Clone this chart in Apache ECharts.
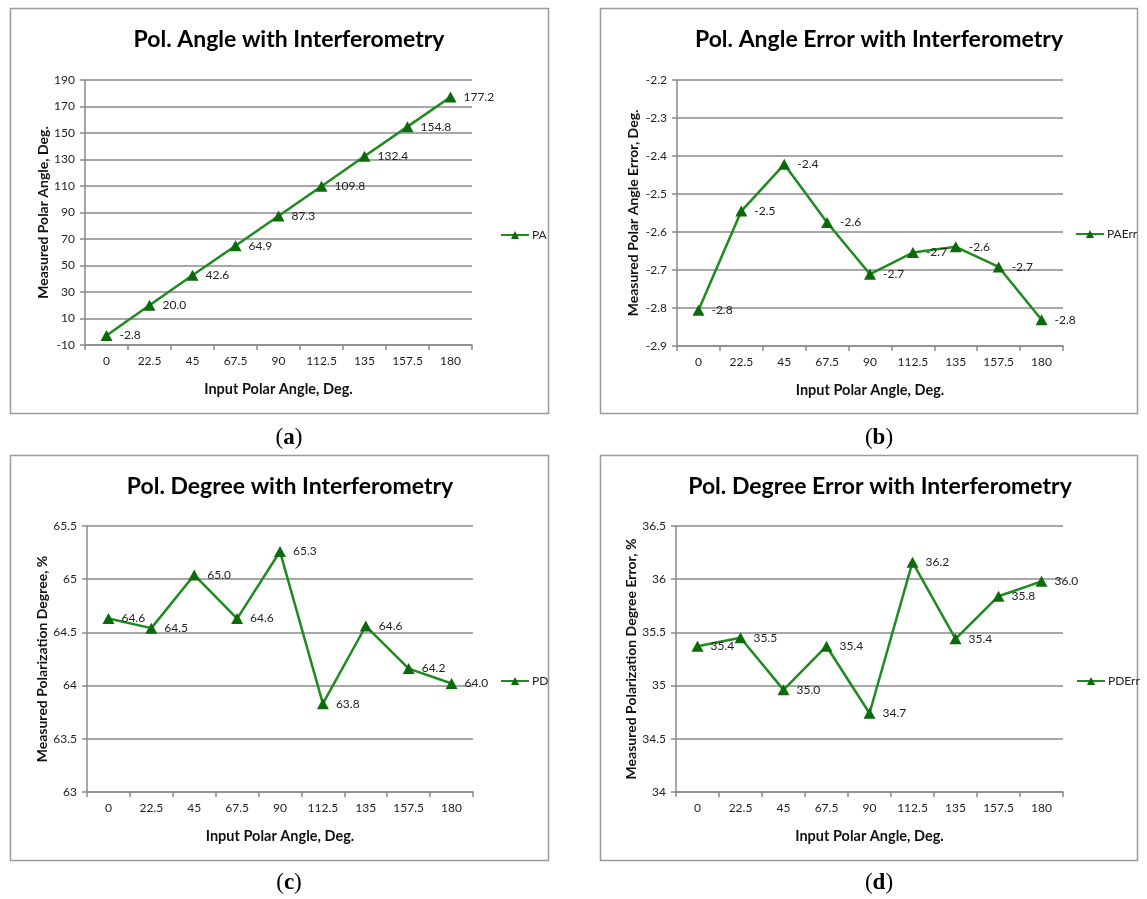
<!DOCTYPE html>
<html>
<head>
<meta charset="utf-8">
<script src="https://cdn.jsdelivr.net/npm/echarts@6/dist/echarts.min.js"></script>
<style>
html,body{margin:0;padding:0;background:#fff;}
#main{width:1147px;height:899px;}
</style>
</head>
<body>
<div id="main"></div>
<script>
// input polar angle categories (shared by all 4 panels)
var xCats = ['0','22.5','45','67.5','90','112.5','135','157.5','180'];
// (a) measured polar angle
var paValues = [-2.8, 20.0, 42.6, 64.9, 87.3, 109.8, 132.4, 154.8, 177.2];
// (b) polar angle error
var paErrValues = [-2.806, -2.545, -2.422, -2.575, -2.711, -2.654, -2.639, -2.692, -2.831];
// (c) polarization degree
var pdValues = [64.63, 64.54, 65.04, 64.63, 65.26, 63.83, 64.56, 64.16, 64.02];
// (d) polarization degree error
var pdErrValues = [35.37, 35.45, 34.96, 35.37, 34.74, 36.16, 35.44, 35.84, 35.98];

// y tick values of each panel
var paTicks = [-10, 10, 30, 50, 70, 90, 110, 130, 150, 170, 190];
var paErrTicks = [-2.9, -2.8, -2.7, -2.6, -2.5, -2.4, -2.3, -2.2];
var pdTicks = [63, 63.5, 64, 64.5, 65, 65.5];
var pdErrTicks = [34, 34.5, 35, 35.5, 36, 36.5];

var titles = ['Pol. Angle with Interferometry','Pol. Angle Error with Interferometry',
              'Pol. Degree with Interferometry','Pol. Degree Error with Interferometry'];
var yNames = ['Measured Polar Angle, Deg.','Measured Polar Angle Error, Deg.',
              'Measured Polarization Degree, %','Measured Polarization Degree Error, %'];
var seriesNames = ['PA','PAErr','PD','PDErr'];
var captions = ['a','b','c','d'];

var seriesData = [paValues, paErrValues, pdValues, pdErrValues];
var yTicks = [paTicks, paErrTicks, pdTicks, pdErrTicks];

// layout of each panel
var panels = [
	{box:[10,8,538,405], grid:[85,80,387,265], titleX:289, titleY:40, legend:[495,224], cap:[289,438], yGap:34},
	{box:[600,8,537,405], grid:[677,80,386,266], titleX:879, titleY:40, legend:[1070,223], cap:[879,438], yGap:37},
	{box:[10,455,538,405], grid:[87,526,386,266], titleX:290, titleY:487, legend:[495,670], cap:[289,883], yGap:38},
	{box:[600,455,537,405], grid:[676,526,387,266], titleX:880, titleY:487, legend:[1071,670], cap:[879,883], yGap:37}
];

var FONT = 'Lato, "Open Sans", sans-serif';
var lineColor = '#1f8a1f';
var markColor = '#0b6b0b';
var gridColor = '#8a8a8a';

var grids = [], xAxes = [], yAxes = [], series = [], legends = [], graphics = [];

for(var i=0;i<4;i++){
	var p = panels[i];
	var ticks = yTicks[i];
	graphics.push({
		type:'rect',
		shape:{x:p.box[0]+0.5, y:p.box[1]+0.5, width:p.box[2], height:p.box[3]},
		style:{fill:'none', stroke:'#9a9a9a', lineWidth:1.5}
	});
	graphics.push({
		type:'text',
		x:p.titleX, y:p.titleY,
		style:{text:titles[i], fill:'#000', font:'bold 23px ' + FONT, textAlign:'center', textVerticalAlign:'middle'}
	});
	graphics.push({
		type:'text',
		x:p.cap[0], y:p.cap[1],
		style:{
			text:'{p|(}{b|' + captions[i] + '}{p|)}',
			textAlign:'center', textVerticalAlign:'middle',
			rich:{
				p:{fontFamily:'"Liberation Serif", serif', fontSize:23, fill:'#000'},
				b:{fontFamily:'"Liberation Serif", serif', fontSize:23, fontWeight:'bold', fill:'#000'}
			}
		}
	});
	grids.push({left:p.grid[0], top:p.grid[1], width:p.grid[2], height:p.grid[3]});
	xAxes.push({
		type:'category',
		gridIndex:i,
		data:xCats,
		boundaryGap:true,
		name:'Input Polar Angle, Deg.',
		nameLocation:'middle',
		nameGap:37,
		nameTextStyle:{fontFamily:FONT, fontWeight:'bold', fontSize:14.5, color:'#111'},
		axisLine:{onZero:false, lineStyle:{color:gridColor, width:1.5}},
		axisTick:{show:true, length:5, lineStyle:{color:gridColor, width:1.5}},
		axisLabel:{fontFamily:FONT, fontSize:12, color:'#222', margin:10}
	});
	yAxes.push({
		type:'value',
		gridIndex:i,
		min:ticks[0],
		max:ticks[ticks.length-1],
		name:yNames[i],
		nameLocation:'middle',
		nameGap:p.yGap,
		nameTextStyle:{fontFamily:FONT, fontWeight:'bold', fontSize:14, color:'#111'},
		axisLine:{show:true, onZero:false, lineStyle:{color:gridColor, width:1.5}},
		axisTick:{show:true, length:5, customValues:ticks, lineStyle:{color:gridColor, width:1.5}},
		splitLine:{show:true, lineStyle:{color:gridColor, width:1.5}},
		axisLabel:{fontFamily:FONT, fontSize:12, color:'#222', margin:10, customValues:ticks,
			formatter:function(v){ return +v.toFixed(2) + ''; }}
	});
	series.push({
		name:seriesNames[i],
		type:'line',
		xAxisIndex:i,
		yAxisIndex:i,
		data:seriesData[i],
		symbol:'triangle',
		symbolSize:[12,11],
		lineStyle:{color:lineColor, width:2.5},
		itemStyle:{color:markColor},
		label:{
			show:true,
			position:'right',
			distance:7,
			fontFamily:FONT,
			fontSize:12,
			color:'#222',
			formatter:function(prm){ return prm.value.toFixed(1); }
		},
		animation:false
	});
	legends.push({
		data:[seriesNames[i]],
		left:p.legend[0],
		top:p.legend[1],
		itemWidth:28,
		itemHeight:10,
		itemGap:4,
		textStyle:{fontFamily:FONT, fontSize:12, color:'#222', padding:[0,0,0,-2]}
	});
}

var chart = echarts.init(document.getElementById('main'));
chart.setOption({
	backgroundColor:'#fff',
	animation:false,
	grid:grids,
	xAxis:xAxes,
	yAxis:yAxes,
	legend:legends,
	series:series,
	graphic:graphics
});
</script>
</body>
</html>
